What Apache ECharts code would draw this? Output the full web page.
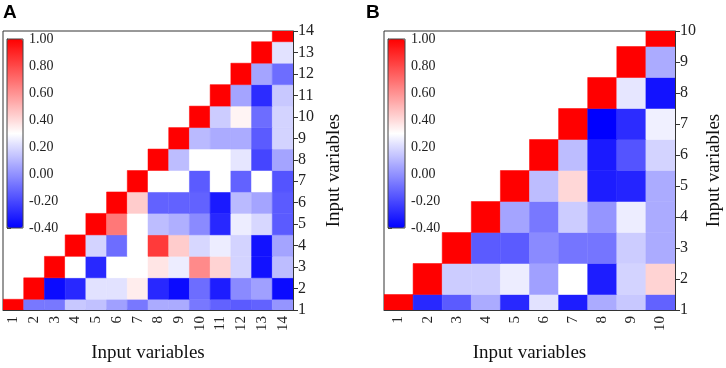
<!DOCTYPE html>
<html>
<head>
<meta charset="utf-8">
<script src="https://cdn.jsdelivr.net/npm/echarts@6/dist/echarts.min.js"></script>
<style>
  html, body { margin: 0; padding: 0; background: #fff; }
  #main { width: 726px; height: 368px; }
</style>
</head>
<body>
<div id="main"></div>
<script>
// variable labels
var varsA = ['1','2','3','4','5','6','7','8','9','10','11','12','13','14'];
var varsB = ['1','2','3','4','5','6','7','8','9','10'];
var colorbarTicks = [-0.4, -0.2, 0, 0.2, 0.4, 0.6, 0.8, 1.0];

// correlation rows, row k starts at column k (upper-right triangle)
var rowsA = [
  [1.00, -0.07, -0.07, 0.15, 0.13, 0.04, -0.07, 0.07, 0.07, -0.07, -0.13, -0.15, -0.13, 0.01],
  [1.00, -0.37, -0.29, 0.22, 0.22, 0.35, -0.29, -0.37, -0.10, -0.32, -0.02, 0.04, -0.37],
  [1.00, 0.30, -0.29, 0.30, 0.30, 0.37, 0.25, 0.62, 0.42, 0.18, -0.35, 0.12],
  [1.00, 0.18, -0.10, 0.30, 0.84, 0.44, 0.19, 0.25, 0.18, -0.35, 0.05],
  [1.00, 0.67, 0.30, 0.12, 0.08, -0.02, -0.29, 0.25, 0.19, -0.15],
  [1.00, 0.44, -0.13, -0.13, -0.13, -0.33, 0.11, 0.05, -0.15],
  [1.00, 0.30, 0.30, -0.15, 0.30, -0.13, 0.30, -0.17],
  [1.00, 0.12, 0.30, 0.30, 0.23, -0.21, 0.05],
  [1.00, 0.11, 0.07, 0.07, -0.15, 0.18],
  [1.00, 0.16, 0.33, -0.10, 0.18],
  [1.00, 0.05, -0.28, 0.15],
  [1.00, 0.05, -0.10],
  [1.00, 0.22],
  [1.00]
];
var rowsB = [
  [1.00, -0.29, -0.15, 0.07, -0.29, 0.22, -0.32, 0.07, 0.15, -0.13],
  [1.00, 0.16, 0.16, 0.25, 0.04, 0.30, -0.32, 0.18, 0.42],
  [1.00, -0.15, -0.15, -0.02, -0.08, -0.08, 0.16, 0.07],
  [1.00, 0.05, -0.07, 0.16, 0.01, 0.25, 0.07],
  [1.00, 0.12, 0.41, -0.32, -0.30, 0.07],
  [1.00, 0.12, -0.33, -0.17, 0.18],
  [1.00, -0.40, -0.28, 0.26],
  [1.00, 0.23, -0.35],
  [1.00, 0.07],
  [1.00]
];

function toCells(rows) {
  var out = [];
  rows.forEach(function (row, k) {
    row.forEach(function (v, i) {
      // [column index, row value, r]
      out.push([k + i, k + 1, v]);
    });
  });
  return out;
}

function renderCell(params, api) {
  var c = api.coord([api.value(0), api.value(1)]);
  var s = api.size([1, 1]);
  var color = api.visual('color');
  return {
    type: 'rect',
    shape: { x: c[0] - s[0] / 2, y: c[1] - s[1] / 2, width: s[0], height: s[1] },
    style: { fill: color, stroke: color, lineWidth: 0.5 }
  };
}

var serif = 'Liberation Serif';
var axisColor = '#333';

function mainX(idx, cats) {
  return {
    gridIndex: idx, type: 'category', data: cats,
    name: 'Input variables', nameLocation: 'middle', nameGap: 34,
    nameTextStyle: { fontFamily: serif, fontSize: 19, color: '#111' },
    axisLine: { lineStyle: { color: axisColor } },
    axisTick: { alignWithLabel: true, length: 5, lineStyle: { color: axisColor } },
    axisLabel: { rotate: 90, fontFamily: serif, fontSize: 15, color: '#222', margin: 6 },
    splitLine: { show: false }
  };
}
function mainY(idx, n, gap) {
  return {
    gridIndex: idx, type: 'value', position: 'right',
    min: 1, max: n, interval: 1,
    name: 'Input variables', nameLocation: 'middle', nameGap: gap, nameRotate: 90,
    nameTextStyle: { fontFamily: serif, fontSize: 19, color: '#111' },
    axisLine: { show: true, lineStyle: { color: axisColor } },
    axisTick: { show: true, length: 5, lineStyle: { color: axisColor } },
    axisLabel: { fontFamily: serif, fontSize: 16, color: '#222', margin: 5 },
    splitLine: { show: false }
  };
}
function barY(idx) {
  return {
    gridIndex: idx, type: 'value', position: 'right',
    min: -0.4, max: 1.0, interval: 0.2,
    axisLine: { show: true, lineStyle: { color: '#444' } },
    axisTick: { show: true, length: 4, lineStyle: { color: '#444' } },
    axisLabel: {
      fontFamily: serif, fontSize: 14, color: '#222', margin: 6,
      formatter: function (v) { return (Math.round(v * 100) / 100).toFixed(2); }
    },
    splitLine: { show: false }
  };
}

var chart = echarts.init(document.getElementById('main'));

var option = {
  backgroundColor: '#fff',
  animation: false,
  graphic: [
    { type: 'text', left: 3, top: 3, style: { text: 'A', font: 'bold 19px Liberation Sans', fill: '#000' } },
    { type: 'text', left: 366, top: 3, style: { text: 'B', font: 'bold 19px Liberation Sans', fill: '#000' } }
  ],
  grid: [
    { left: 3, top: 31, width: 290, height: 282, show: true, borderColor: axisColor, borderWidth: 1, backgroundColor: 'transparent' },
    { left: 384, top: 31, width: 291, height: 282, show: true, borderColor: axisColor, borderWidth: 1, backgroundColor: 'transparent' },
    { left: 7, top: 39, width: 16, height: 189, show: true, borderColor: '#444', borderWidth: 1, backgroundColor: 'transparent', z: 10 },
    { left: 388, top: 39, width: 17, height: 189, show: true, borderColor: '#444', borderWidth: 1, backgroundColor: 'transparent', z: 10 }
  ],
  xAxis: [
    mainX(0, varsA),
    mainX(1, varsB),
    { gridIndex: 2, type: 'value', show: false },
    { gridIndex: 3, type: 'value', show: false }
  ],
  yAxis: [
    mainY(0, varsA.length, 32),
    mainY(1, varsB.length, 30),
    barY(2),
    barY(3)
  ],
  visualMap: [
    {
      type: 'continuous', seriesIndex: 0, dimension: 2, min: -0.4, max: 1.0,
      calculable: false, left: 7, top: 39, itemWidth: 16, itemHeight: 189, padding: 0,
      text: null, inRange: { color: ['#0000ff', '#ffffff', '#ff0000'] }
    },
    {
      type: 'continuous', seriesIndex: 1, dimension: 2, min: -0.4, max: 1.0,
      calculable: false, left: 388, top: 39, itemWidth: 17, itemHeight: 189, padding: 0,
      text: null, inRange: { color: ['#0000ff', '#ffffff', '#ff0000'] }
    }
  ],
  series: [
    { type: 'custom', xAxisIndex: 0, yAxisIndex: 0, clip: true, renderItem: renderCell, data: toCells(rowsA), z: 1 },
    { type: 'custom', xAxisIndex: 1, yAxisIndex: 1, clip: true, renderItem: renderCell, data: toCells(rowsB), z: 1 }
  ]
};

chart.setOption(option);
</script>
</body>
</html>
